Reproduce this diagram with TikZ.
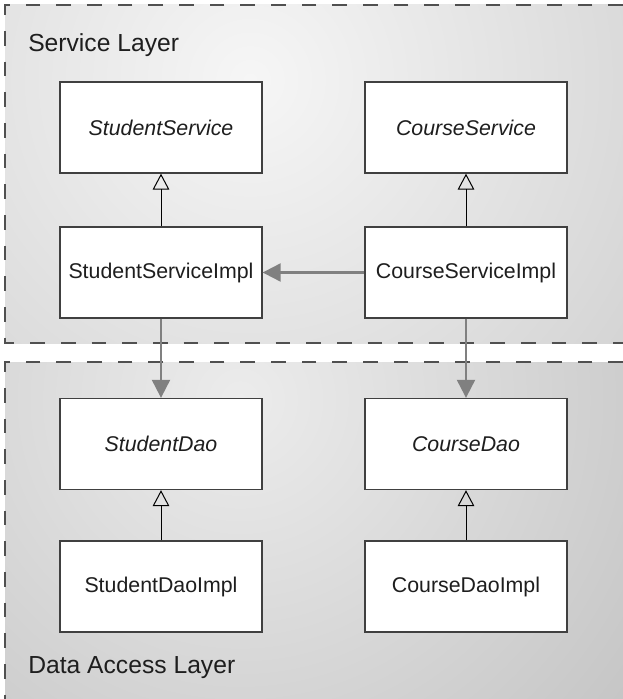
\documentclass[tikz,border=0pt]{standalone}
\usepackage{fontspec}
\setmainfont{Liberation Sans}
\usepackage{xcolor}
\usetikzlibrary{arrows.meta}

\begin{document}
\begin{tikzpicture}[x=0.75pt,y=0.75pt,yscale=-1,xscale=1,
	classbox/.style={draw={rgb, 255:red, 64; green, 64; blue, 64 }, line width=1pt, fill=white, minimum width=151.5pt, minimum height=68.25pt, inner sep=0.75pt, text={rgb, 255:red, 30; green, 30; blue, 30 }, font=\fontsize{16}{19}\selectfont},
	layerline/.style={draw={rgb, 255:red, 80; green, 80; blue, 80 }, line width=0.9pt, dash pattern=on 11pt off 12pt},
	layertitle/.style={anchor=base west, inner sep=0pt, text={rgb, 255:red, 30; green, 30; blue, 30 }, font=\fontsize{18.5}{22}\selectfont},
	realize/.style={-{Triangle[open, length=12pt, width=12.5pt]}, line width=0.75pt, black},
	uses/.style={-{Triangle[length=13.5pt, width=13.5pt]}, line width=1.6pt, color={rgb, 255:red, 128; green, 128; blue, 128 }}]
			\useasboundingbox (0,0) rectangle (623,699);

			%Shape: Rectangle [service layer]
			\begin{scope}
				\clip (5,5) rectangle (623,343);
				\shade [inner color={rgb, 255:red, 246; green, 246; blue, 246 }, outer color={rgb, 255:red, 186; green, 186; blue, 186 }] (250,80) circle (820);
			\end{scope}
			%Shape: Rectangle [data access layer]
			\begin{scope}
				\clip (5,362) rectangle (623,699);
				\shade [inner color={rgb, 255:red, 236; green, 236; blue, 236 }, outer color={rgb, 255:red, 170; green, 170; blue, 170 }] (240,400) circle (840);
			\end{scope}
			%Straight Lines [layer borders]
			\draw [layerline] (623,5) -- (5,5) -- (5,343) -- (623,343) ;
			\draw [layerline] (623,362) -- (5,362) -- (5,699) ;

			% Text Node
			\draw (28,52) node [layertitle] (svcTitle) {Service Layer};
			% Text Node
			\draw (28,673) node [layertitle] (daoTitle) {Data Access Layer};

			%Shape: Rectangle [classes]
			\draw (161,127.5) node [classbox] (stuSvc) {\itshape StudentService};
			\draw (466,127.5) node [classbox] (crsSvc) {\itshape CourseService};
			\draw (161,272.5) node [classbox] (stuSvcImpl) {StudentServiceImpl};
			\draw (466,272.5) node [classbox] (crsSvcImpl) {CourseServiceImpl};
			\draw (161,444) node [classbox] (stuDao) {\itshape StudentDao};
			\draw (466,444) node [classbox] (crsDao) {\itshape CourseDao};
			\draw (161,586.5) node [classbox] (stuDaoImpl) {StudentDaoImpl};
			\draw (466,586.5) node [classbox] (crsDaoImpl) {CourseDaoImpl};

			%Straight Lines [implements]
			\draw [realize] (stuSvcImpl) -- (stuSvc) ;
			\draw [realize] (crsSvcImpl) -- (crsSvc) ;
			\draw [realize] (stuDaoImpl) -- (stuDao) ;
			\draw [realize] (crsDaoImpl) -- (crsDao) ;
			%Straight Lines [depends on]
			\draw [uses] (crsSvcImpl) -- (stuSvcImpl) ;
			\draw [uses] (stuSvcImpl) -- (stuDao) ;
			\draw [uses] (crsSvcImpl) -- (crsDao) ;

\end{tikzpicture}
\end{document}
